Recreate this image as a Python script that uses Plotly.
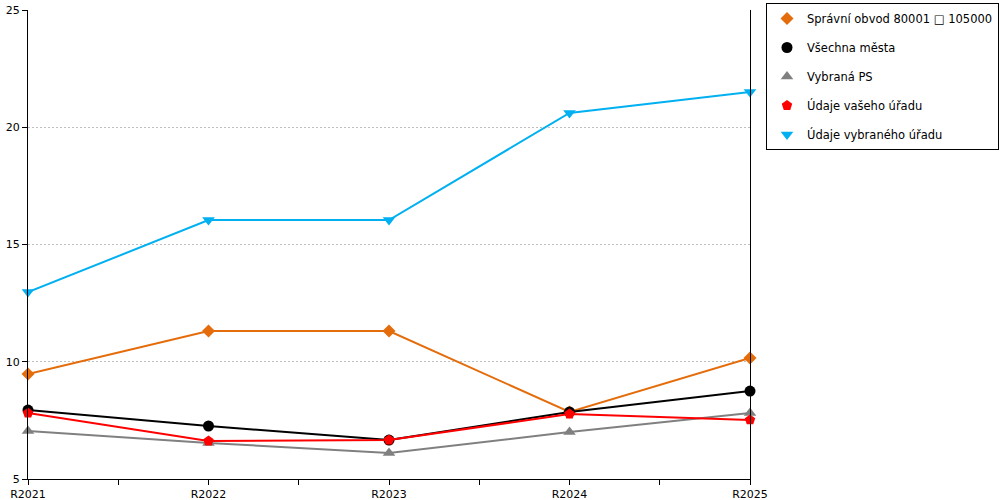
import plotly.graph_objects as go

categories = ["R2021", "R2022", "R2023", "R2024", "R2025"]
spravni_obvod = [9.48, 11.31, 11.31, 7.86, 10.16]
vsechna_mesta = [7.94, 7.26, 6.66, 7.86, 8.75]
vybrana_ps = [7.05, 6.54, 6.11, 7.00, 7.81]
udaje_vaseho = [7.81, 6.62, 6.66, 7.77, 7.52]
udaje_vybraneho = [12.97, 16.04, 16.04, 20.61, 21.50]

series = [
    ("Správní obvod 80001 \u25a1 105000", spravni_obvod, "#E46C0A", "diamond", 10),
    ("Všechna města", vsechna_mesta, "#000000", "circle", 11),
    ("Vybraná PS", vybrana_ps, "#808080", "triangle-up", 11),
    ("Údaje vašeho úřadu", udaje_vaseho, "#FF0000", "pentagon", 11),
    ("Údaje vybraného úřadu", udaje_vybraneho, "#00B0F0", "triangle-down", 11),
]

fig = go.Figure()
for i, (name, vals, color, sym, size) in enumerate(series):
    fig.add_trace(go.Scatter(
        x=categories, y=vals, mode="lines+markers", name=name,
        line=dict(color=color, width=2),
        marker=dict(color=color, symbol=sym, size=size),
        showlegend=False, cliponaxis=False,
    ))
for i, (name, vals, color, sym, size) in enumerate(series):
    fig.add_trace(go.Scatter(
        x=[None], y=[None], mode="markers", name=name,
        marker=dict(color=color, symbol=sym, size=size),
        legendgroup="g%d" % i, showlegend=True,
    ))

fig.update_layout(
    width=1000, height=500,
    margin=dict(l=28, r=250, t=10, b=21, pad=0, autoexpand=False),
    paper_bgcolor="white", plot_bgcolor="white",
    font=dict(family="DejaVu Sans", size=11, color="#000000"),
    showlegend=True,
    legend=dict(
        xref="container", yref="container",
        x=0.999, xanchor="right",
        y=0.994, yanchor="top",
        bordercolor="#000000", borderwidth=1, bgcolor="white",
        font=dict(family="DejaVu Sans", size=11.5, color="#000000"),
        tracegroupgap=10, itemwidth=30,
    ),
    xaxis=dict(
        type="category", range=[0, 4], automargin=False,
        showline=True, linecolor="#000000", linewidth=1,
        ticks="outside", ticklen=5, tickcolor="#000000",
        showgrid=False, zeroline=False,
        minor=dict(ticks="outside", ticklen=5, tickcolor="#000000",
                   tickvals=[0.5, 1.5, 2.5, 3.5], showgrid=False),
    ),
    yaxis=dict(
        range=[5, 25], dtick=5, tick0=5, automargin=False,
        showline=True, linecolor="#000000", linewidth=1, mirror=True,
        ticks="outside", ticklen=5, tickcolor="#000000",
        showgrid=True, gridcolor="#BFBFBF", griddash="2px,2px", gridwidth=1,
        zeroline=False,
    ),
)

fig.write_html(
    "out.html",
    config={"displayModeBar": False},
    post_script="document.body.style.margin='0';document.body.style.overflow='hidden';",
)
